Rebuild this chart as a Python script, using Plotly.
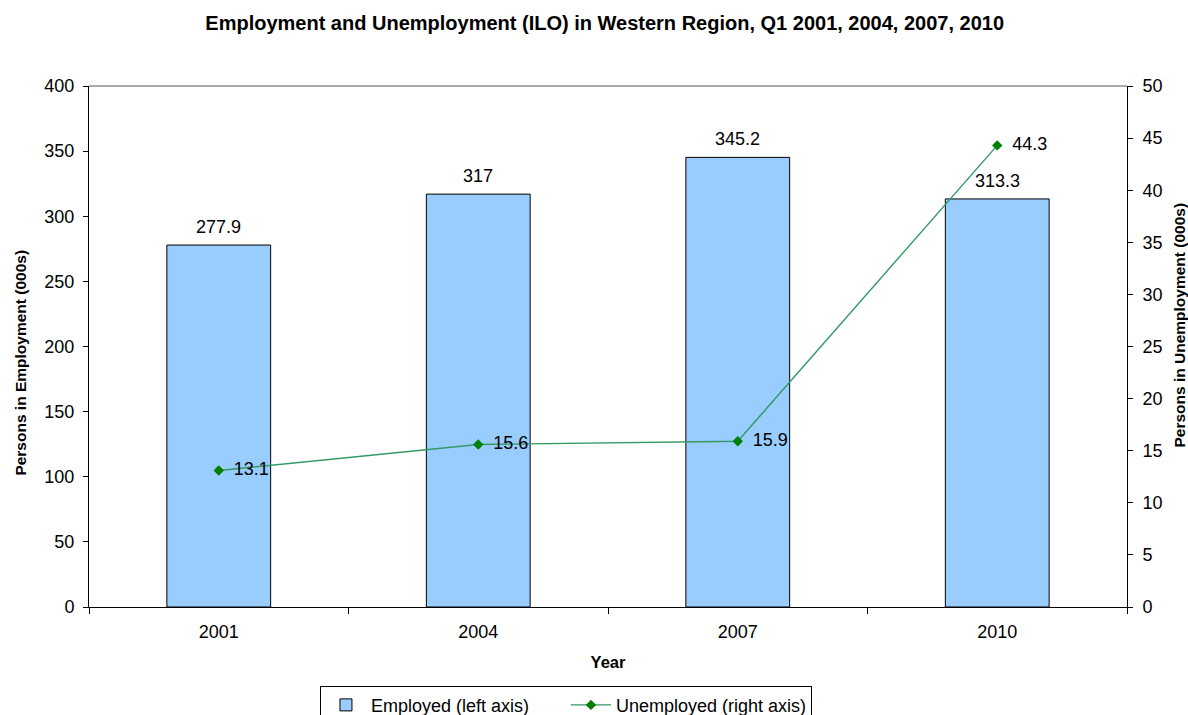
import plotly.graph_objects as go

# Labour-force figures, Western Region, Q1 of each year (thousands)
years = ["2001", "2004", "2007", "2010"]
employed = [277.9, 317.0, 345.2, 313.3]
unemployed = [13.1, 15.6, 15.9, 44.3]
employed_labels = ["277.9", "317", "345.2", "313.3"]
unemployed_labels = ["13.1", "15.6", "15.9", "44.3"]

FONT = "Liberation Sans, Arial, sans-serif"

fig = go.Figure()

fig.add_trace(go.Bar(
    x=years, y=employed, name="Employed (left axis)",
    marker=dict(color="#99ccff", line=dict(color="#000000", width=1)),
    yaxis="y",
))

fig.add_trace(go.Scatter(
    x=years, y=unemployed, name="Unemployed (right axis)",
    mode="lines+markers+text",
    line=dict(color="#339966", width=1.4),
    marker=dict(symbol="diamond", size=8, color="#008000"),
    text=unemployed_labels, texttemplate="\u2002%{text}",
    textposition="middle right",
    textfont=dict(size=18, color="#000000", family=FONT),
    cliponaxis=False,
    yaxis="y2",
))

# value labels sitting above each bar (x given as the category index)
bar_labels = [
    dict(x=i, y=val, xref="x", yref="y", text=lab, showarrow=False,
         yanchor="bottom", yshift=6, font=dict(size=18, family=FONT, color="#000000"))
    for i, (val, lab) in enumerate(zip(employed, employed_labels))
]

fig.update_layout(
    width=1188, height=715,
    margin=dict(l=89, r=61, t=86, b=108, autoexpand=False),
    paper_bgcolor="white", plot_bgcolor="white",
    font=dict(family=FONT, size=18, color="#000000"),
    title=dict(
        text="<b>Employment and Unemployment (ILO) in Western Region, Q1 2001, 2004, 2007, 2010</b>",
        x=0.509, xanchor="center", y=0.968, yanchor="middle",
        font=dict(size=20, family=FONT),
    ),
    bargap=0.6,
    showlegend=True,
    legend=dict(
        orientation="h", x=0.4595, xanchor="center",
        yref="container", y=0.041, yanchor="top",
        bordercolor="#000000", borderwidth=1, bgcolor="white",
        font=dict(size=18, family=FONT),
        itemwidth=40, entrywidth=190,
    ),
    xaxis=dict(
        type="category", categoryorder="array", categoryarray=years,
        range=[-0.5, len(years) - 0.5],
        tickson="boundaries", ticks="outside", ticklen=6,
        tickcolor="#000000", showline=True, linecolor="#000000", linewidth=1,
        showgrid=False, tickfont=dict(size=18), automargin=False,
        ticklabelstandoff=8,
        title=dict(text="<b>Year</b>", font=dict(size=16.5), standoff=15),
    ),
    yaxis=dict(
        range=[0, 400], dtick=50, ticks="outside", ticklen=5,
        tickcolor="#000000", showline=True, linecolor="#000000", linewidth=1,
        showgrid=False, zeroline=False, tickfont=dict(size=18), automargin=False,
        ticklabelstandoff=5,
    ),
    yaxis2=dict(
        range=[0, 50], dtick=5, overlaying="y", side="right",
        ticks="outside", ticklen=5, tickcolor="#000000",
        showline=True, linecolor="#000000", linewidth=1,
        showgrid=False, zeroline=False, tickfont=dict(size=18), automargin=False,
        ticklabelstandoff=6,
    ),
    shapes=[dict(type="line", xref="paper", yref="paper", x0=0, x1=1, y0=1, y1=1,
                 line=dict(color="#8c8c8c", width=1.5))],
    annotations=bar_labels + [
        dict(text="<b>Persons in Employment (000s)</b>", textangle=-90,
             xref="paper", yref="paper", x=-0.066, y=0.47, xanchor="center", yanchor="middle",
             showarrow=False, font=dict(size=15.5, family=FONT)),
        dict(text="<b>Persons in Unemployment (000s)</b>", textangle=-90,
             xref="paper", yref="paper", x=1.0505, y=0.541, xanchor="center", yanchor="middle",
             showarrow=False, font=dict(size=15.5, family=FONT)),
    ],
)

fig.write_html("out.html")
